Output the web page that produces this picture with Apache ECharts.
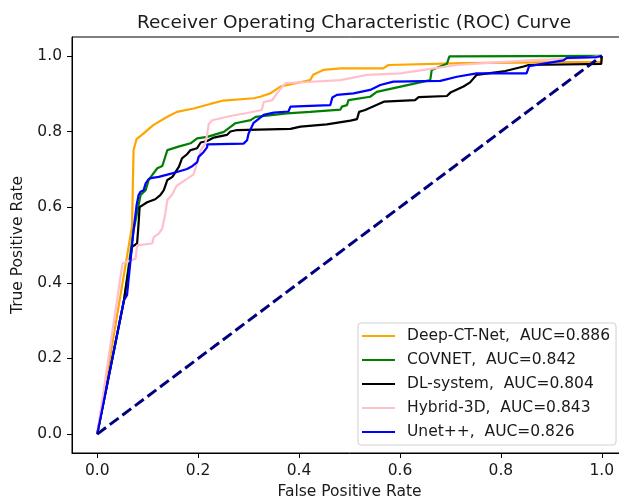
<!DOCTYPE html>
<html>
<head>
<meta charset="utf-8">
<title>ROC Curve</title>
<script src="https://cdn.jsdelivr.net/npm/echarts@6/dist/echarts.min.js"></script>
<style>
  html, body { margin: 0; padding: 0; background: #fff; overflow: hidden; }
  #rocChart { width: 640px; height: 498px; }
</style>
</head>
<body>
<div id="rocChart"></div>
<script>
// 刻度
var tickValues = [0, 0.2, 0.4, 0.6, 0.8, 1.0];

// 各模型的 ROC 数据 (FPR / TPR)
var deepCtFpr = [0, 0.069, 0.072, 0.078, 0.092, 0.111, 0.139, 0.158, 0.191, 0.224, 0.250, 0.310, 0.323, 0.343, 0.363, 0.422, 0.428, 0.448, 0.482, 0.567, 0.577, 0.725, 0.999, 1];
var deepCtTpr = [0, 0.550, 0.751, 0.780, 0.795, 0.817, 0.839, 0.852, 0.861, 0.873, 0.882, 0.888, 0.892, 0.901, 0.919, 0.936, 0.950, 0.963, 0.967, 0.967, 0.976, 0.981, 0.984, 1];

var covnetFpr = [0, 0.053, 0.072, 0.082, 0.086, 0.096, 0.102, 0.119, 0.129, 0.139, 0.161, 0.185, 0.198, 0.218, 0.251, 0.274, 0.304, 0.314, 0.376, 0.422, 0.482, 0.485, 0.495, 0.498, 0.541, 0.554, 0.660, 0.663, 0.693, 0.698, 1];
var covnetTpr = [0, 0.354, 0.539, 0.605, 0.632, 0.645, 0.672, 0.703, 0.709, 0.751, 0.760, 0.769, 0.782, 0.786, 0.799, 0.822, 0.830, 0.839, 0.848, 0.852, 0.858, 0.866, 0.870, 0.883, 0.892, 0.905, 0.936, 0.963, 0.979, 0.999, 1];

var dlFpr = [0, 0.053, 0.069, 0.079, 0.082, 0.084, 0.099, 0.115, 0.125, 0.132, 0.139, 0.149, 0.162, 0.168, 0.178, 0.185, 0.198, 0.205, 0.218, 0.231, 0.257, 0.264, 0.277, 0.383, 0.403, 0.455, 0.502, 0.515, 0.519, 0.531, 0.568, 0.630, 0.637, 0.693, 0.700, 0.726, 0.739, 0.752, 0.809, 0.845, 0.855, 0.999, 1];
var dlTpr = [0, 0.354, 0.495, 0.504, 0.557, 0.600, 0.613, 0.621, 0.632, 0.645, 0.672, 0.680, 0.707, 0.729, 0.740, 0.751, 0.756, 0.771, 0.775, 0.784, 0.791, 0.800, 0.804, 0.807, 0.813, 0.819, 0.829, 0.833, 0.852, 0.857, 0.879, 0.883, 0.891, 0.894, 0.903, 0.919, 0.930, 0.950, 0.960, 0.972, 0.976, 0.979, 1];

var hybridFpr = [0, 0.050, 0.076, 0.079, 0.109, 0.112, 0.122, 0.129, 0.135, 0.139, 0.149, 0.157, 0.178, 0.191, 0.201, 0.205, 0.214, 0.218, 0.221, 0.228, 0.264, 0.297, 0.326, 0.330, 0.347, 0.356, 0.373, 0.416, 0.482, 0.535, 0.601, 0.667, 0.713, 0.766, 0.865, 0.964, 1];
var hybridTpr = [0, 0.451, 0.464, 0.499, 0.504, 0.521, 0.530, 0.544, 0.584, 0.619, 0.634, 0.656, 0.675, 0.687, 0.730, 0.751, 0.767, 0.793, 0.820, 0.830, 0.841, 0.849, 0.857, 0.878, 0.883, 0.901, 0.928, 0.931, 0.936, 0.950, 0.954, 0.967, 0.976, 0.981, 0.989, 0.994, 1];

var unetFpr = [0, 0.053, 0.059, 0.072, 0.078, 0.082, 0.086, 0.092, 0.096, 0.102, 0.106, 0.122, 0.139, 0.158, 0.178, 0.189, 0.198, 0.201, 0.211, 0.218, 0.218, 0.290, 0.297, 0.300, 0.310, 0.330, 0.350, 0.379, 0.383, 0.462, 0.466, 0.475, 0.508, 0.541, 0.561, 0.587, 0.680, 0.713, 0.752, 0.851, 0.856, 0.924, 0.931, 0.990, 1];
var unetTpr = [0, 0.354, 0.367, 0.539, 0.605, 0.632, 0.641, 0.645, 0.663, 0.674, 0.677, 0.680, 0.686, 0.693, 0.701, 0.709, 0.719, 0.733, 0.746, 0.759, 0.766, 0.768, 0.777, 0.795, 0.823, 0.844, 0.850, 0.853, 0.866, 0.870, 0.890, 0.897, 0.901, 0.910, 0.923, 0.932, 0.934, 0.945, 0.954, 0.954, 0.973, 0.988, 0.995, 0.997, 1];

// 对角线
var chanceFpr = [0, 1];
var chanceTpr = [0, 1];

var modelNames = ['Deep-CT-Net,  AUC=0.886', 'COVNET,  AUC=0.842', 'DL-system,  AUC=0.804', 'Hybrid-3D,  AUC=0.843', 'Unet++,  AUC=0.826'];
var modelColors = ['#ffa500', '#008000', '#000000', '#ffc0cb', '#0000ff'];

function toPoints(xs, ys) {
	var pts = [];
	for (var i = 0; i < xs.length; i++) {
		pts.push([xs[i], ys[i]]);
	}
	return pts;
}

var curves = [
	toPoints(deepCtFpr, deepCtTpr),
	toPoints(covnetFpr, covnetTpr),
	toPoints(dlFpr, dlTpr),
	toPoints(hybridFpr, hybridTpr),
	toPoints(unetFpr, unetTpr)
];

var fontName = '"DejaVu Sans", sans-serif';
var textColor = '#1a1a1a';
var fontSz = 15.5;

function fmt(v) {
	return v.toFixed(1);
}

function makeAxis(name, gap, labelMargin) {
	return {
		type: 'value',
		min: -0.05,
		max: 1.05,
		name: name,
		nameLocation: 'middle',
		nameGap: gap,
		nameTextStyle: { fontFamily: fontName, fontSize: fontSz, color: textColor },
		axisLine: { show: true, onZero: false, lineStyle: { color: '#000', width: 1 } },
		axisTick: { show: true, length: 5, customValues: tickValues, lineStyle: { color: '#000', width: 1 } },
		axisLabel: { customValues: tickValues, formatter: fmt, margin: labelMargin, fontFamily: fontName, fontSize: fontSz, color: textColor },
		splitLine: { show: false }
	};
}

var series = [];
for (var k = 0; k < curves.length; k++) {
	series.push({
		name: modelNames[k],
		type: 'line',
		data: curves[k],
		symbol: 'none',
		showSymbol: false,
		lineStyle: { color: modelColors[k], width: 2.2 },
		itemStyle: { color: modelColors[k] },
		animation: false
	});
}
// 随机猜测线
series.push({
	name: 'chance',
	type: 'line',
	data: toPoints(chanceFpr, chanceTpr),
	symbol: 'none',
	showSymbol: false,
	lineStyle: { color: '#000080', width: 3, type: [11, 4.7] },
	itemStyle: { color: '#000080' },
	animation: false
});

var myChart = echarts.init(document.getElementById('rocChart'));

var option = {
	animation: false,
	backgroundColor: '#fff',
	title: {
		text: 'Receiver Operating Characteristic (ROC) Curve',
		left: 349,
		textAlign: 'center',
		top: 9,
		textStyle: { fontFamily: fontName, fontSize: 18.5, fontWeight: 'normal', color: textColor }
	},
	legend: {
		data: modelNames,
		orient: 'vertical',
		left: 358,
		top: 323,
		padding: [5, 6, 5, 4],
		icon: 'rect',
		itemWidth: 33,
		itemHeight: 2,
		itemGap: 8,
		backgroundColor: '#fff',
		borderColor: '#d0d0d0',
		borderWidth: 1,
		borderRadius: 3,
		textStyle: { fontFamily: fontName, fontSize: fontSz, color: textColor, padding: [0, 0, 0, 7] }
	},
	grid: {
		left: 72,
		top: 37,
		width: 555,
		height: 416,
		show: true,
		borderColor: '#000',
		borderWidth: 1,
		containLabel: false,
		outerBoundsMode: 'none'
	},
	xAxis: makeAxis('False Positive Rate', 28, 10),
	yAxis: makeAxis('True Positive Rate', 42, 10),
	series: series
};

myChart.setOption(option);
</script>
</body>
</html>
